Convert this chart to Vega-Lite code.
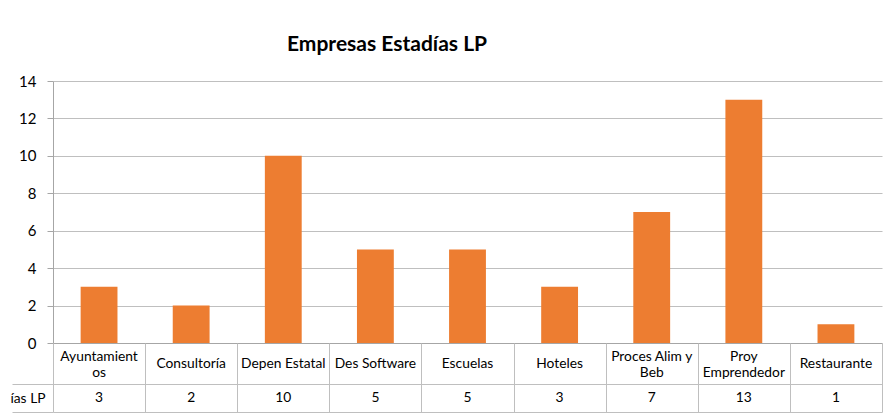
{
  "$schema": "https://vega.github.io/schema/vega-lite/v6.json",
  "background": "white",
  "padding": {"left": 9, "top": 34, "right": 5, "bottom": 4},
  "config": {"font": "Lato", "view": {"stroke": null}},
  "data": {
    "values": [
      {"empresa": "Ayuntamient\nos", "valor": 3},
      {"empresa": "Consultoría", "valor": 2},
      {"empresa": "Depen Estatal", "valor": 10},
      {"empresa": "Des Software", "valor": 5},
      {"empresa": "Escuelas", "valor": 5},
      {"empresa": "Hoteles", "valor": 3},
      {"empresa": "Proces Alim y\nBeb", "valor": 7},
      {"empresa": "Proy\nEmprendedor", "valor": 13},
      {"empresa": "Restaurante", "valor": 1}
    ]
  },
  "spacing": 0,
  "bounds": "flush",
  "vconcat": [
    {
      "title": {"text": "Empresas Estadías LP", "fontSize": 21, "fontWeight": "bold", "anchor": "start", "frame": "group", "dx": 234, "offset": 19, "color": "#000000"},
      "width": 829,
      "height": 262,
      "mark": {"type": "bar", "width": {"band": 0.4}, "color": "#ED7D31"},
      "encoding": {
        "x": {"field": "empresa", "type": "nominal", "sort": null,
          "scale": {"paddingInner": 0, "paddingOuter": 0},
          "axis": {"labels": false, "ticks": false, "title": null, "grid": false, "domainColor": "#A6A6A6", "domainWidth": 1}},
        "y": {"field": "valor", "type": "quantitative",
          "scale": {"domain": [0, 14], "nice": false},
          "axis": {"values": [0, 2, 4, 6, 8, 10, 12, 14], "title": null, "tickSize": 6, "labelPadding": 11,
            "tickColor": "#A6A6A6", "domainColor": "#A6A6A6", "gridColor": "#BFBFBF", "grid": true,
            "labelFontSize": 15, "labelColor": "#000000"}}
      }
    },
    {
      "width": 829,
      "height": 69,
      "encoding": {
        "x": {"field": "empresa", "type": "nominal", "sort": null,
          "scale": {"paddingInner": 0, "paddingOuter": 0,
            "domain": ["Ayuntamient\nos", "Consultoría", "Depen Estatal", "Des Software", "Escuelas", "Hoteles", "Proces Alim y\nBeb", "Proy\nEmprendedor", "Restaurante"]},
          "axis": {"grid": true, "tickBand": "extent", "gridColor": "#BFBFBF", "labels": false, "ticks": false, "domain": false, "title": null}}
      },
      "layer": [
        {
          "transform": [{"filter": "indexof(datum.empresa, '\\n') < 0"}],
          "mark": {"type": "text", "fontSize": 13.8, "color": "#000000", "baseline": "middle"},
          "encoding": {
            "y": {"datum": 0.76, "type": "quantitative",
              "scale": {"domain": [0, 2.5], "reverse": true, "nice": false, "zero": false},
              "axis": {"values": [1.5, 2.5], "grid": true, "gridColor": "#BFBFBF", "tickSize": 41, "tickColor": "#BFBFBF",
                "labels": false, "domain": false, "title": "ías LP", "titleAngle": 0, "titleX": -8, "titleY": 55,
                "titleAlign": "right", "titleBaseline": "middle", "titleFontWeight": "normal", "titleFontSize": 13.8, "titleColor": "#000000"}},
            "text": {"field": "empresa"}
          }
        },
        {
          "transform": [{"filter": "indexof(datum.empresa, '\\n') >= 0"}],
          "mark": {"type": "text", "lineBreak": "\n", "fontSize": 13.8, "lineHeight": 16, "color": "#000000", "baseline": "middle"},
          "encoding": {
            "y": {"datum": 0.49, "type": "quantitative",
              "scale": {"domain": [0, 2.5], "reverse": true, "nice": false, "zero": false},
              "axis": {"values": [1.5, 2.5], "grid": true, "gridColor": "#BFBFBF", "tickSize": 41, "tickColor": "#BFBFBF",
                "labels": false, "domain": false, "title": "ías LP", "titleAngle": 0, "titleX": -8, "titleY": 55,
                "titleAlign": "right", "titleBaseline": "middle", "titleFontWeight": "normal", "titleFontSize": 13.8, "titleColor": "#000000"}},
            "text": {"field": "empresa"}
          }
        },
        {
          "mark": {"type": "text", "fontSize": 13.8, "color": "#000000", "baseline": "middle"},
          "encoding": {
            "y": {"datum": 2.0, "type": "quantitative",
              "scale": {"domain": [0, 2.5], "reverse": true, "nice": false, "zero": false},
              "axis": {"values": [1.5, 2.5], "grid": true, "gridColor": "#BFBFBF", "tickSize": 41, "tickColor": "#BFBFBF",
                "labels": false, "domain": false, "title": "ías LP", "titleAngle": 0, "titleX": -8, "titleY": 55,
                "titleAlign": "right", "titleBaseline": "middle", "titleFontWeight": "normal", "titleFontSize": 13.8, "titleColor": "#000000"}},
            "text": {"field": "valor"}
          }
        }
      ]
    }
  ]
}
